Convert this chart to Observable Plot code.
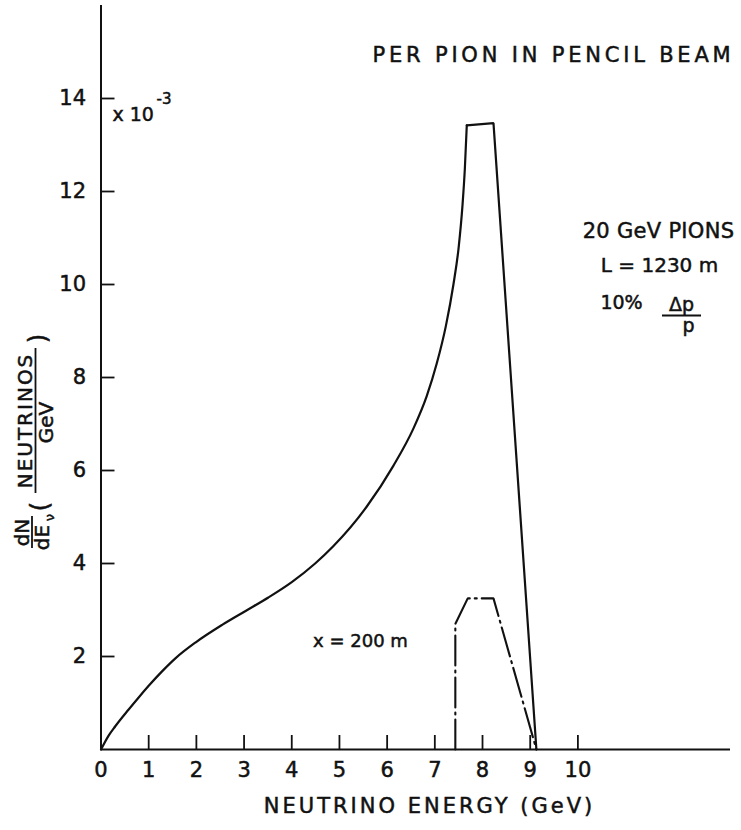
<!DOCTYPE html>
<html><head><meta charset="utf-8">
<script src="https://cdn.jsdelivr.net/npm/d3@7"></script>
<script src="https://cdn.jsdelivr.net/npm/@observablehq/plot@0.6"></script>
<style>body{margin:0;background:#fff} svg{display:block}</style>
</head><body><div id="chart"></div>
<script>
// ---- data ----
const energyRise = [0, 0.16, 0.3, 0.58, 0.79, 1.0, 1.28, 1.56, 1.98, 2.54, 3.05, 3.51, 4.0, 4.49, 4.87, 5.57, 6.13, 6.55, 6.83, 7.04, 7.23, 7.39, 7.5, 7.58, 7.63, 7.67];
const fluxRise   = [0, 0.3, 0.5, 0.86, 1.12, 1.37, 1.68, 1.96, 2.3, 2.68, 2.99, 3.27, 3.6, 4.0, 4.37, 5.22, 6.1, 6.9, 7.6, 8.3, 9.1, 10.0, 10.8, 11.7, 12.5, 13.42];
const energyPeak = [7.67, 8.23, 9.13];
const fluxPeak   = [13.42, 13.47, 0];
const energy200  = [7.43, 7.43, 7.69, 8.23, 9.13];
const flux200    = [0, 2.70, 3.25, 3.25, 0];
const xTickValues = [0,1,2,3,4,5,6,7,8,9,10];
const yTickValues = [2,4,6,8,10,12,14];

// ---- layout ----
const W = 741, H = 830;
const mL = 100.5, mR = 11, mT = 5, mB = 81;
const xMax = 13.2, yMax = 16;
const kx = (W - mL - mR) / xMax, ky = (H - mT - mB) / yMax;
const X = px => (px - mL) / kx;   // page px -> data (annotations only)
const Y = py => (H - mB - py) / ky;

const rise = energyRise.map((e, i) => ({e, f: fluxRise[i]}));
const peak = energyPeak.map((e, i) => ({e, f: fluxPeak[i]}));
const d200 = energy200.map((e, i) => ({e, f: flux200[i]}));

const ink = "#111";
const font = "DejaVu Sans";
const txt = (s, px, py, o = {}) => Plot.text([s], {x: X(px), y: Y(py), text: d => d, fill: ink, fontSize: 20, lineAnchor: "middle", ...o});

const plot = Plot.plot({
  width: W, height: H,
  marginLeft: mL, marginRight: mR, marginTop: mT, marginBottom: mB,
  x: {domain: [0, xMax]},
  y: {domain: [0, yMax]},
  style: {fontFamily: font, color: ink, background: "#fff", overflow: "visible"},
  marks: [
    // axes lines
    Plot.ruleX([0], {stroke: ink, strokeWidth: 2}),
    Plot.ruleY([0], {stroke: ink, strokeWidth: 2}),
    // inward ticks
    Plot.ruleX(xTickValues.filter(d => d > 0), {y1: 0, y2: 14 / ky, stroke: ink, strokeWidth: 1.8}),
    Plot.ruleY(yTickValues, {x1: 0, x2: 14 / kx, stroke: ink, strokeWidth: 1.8}),
    Plot.axisX({ticks: xTickValues, tickSize: 0, tickPadding: 13, label: null, tickFormat: d => String(d)}),
    Plot.axisY({ticks: yTickValues, tickSize: 0, tickPadding: 15, label: null, tickFormat: d => String(d)}),
    // curves
    Plot.line(rise, {x: "e", y: "f", curve: "monotone-x", stroke: ink, strokeWidth: 2.2}),
    Plot.line(peak, {x: "e", y: "f", stroke: ink, strokeWidth: 2.2, strokeLinejoin: "miter"}),
    Plot.line(d200, {x: "e", y: "f", stroke: ink, strokeWidth: 2.1, strokeDasharray: "30,5,2,5", strokeLinejoin: "miter"}),
    // annotations
    txt("PER PION IN PENCIL BEAM", 553, 55, {fontSize: 21}),
    txt("x 10", 112, 114, {textAnchor: "start", fontSize: 19}),
    txt("-3", 156, 99, {textAnchor: "start", fontSize: 15}),
    txt("20 GeV PIONS", 658, 231, {fontSize: 21}),
    txt("L = 1230 m", 659, 265),
    txt("10%", 621, 302, {fontSize: 19}),
    txt("Δp", 681, 304, {fontSize: 19}),
    Plot.ruleY([Y(315)], {x1: X(662), x2: X(701), stroke: ink, strokeWidth: 1.8}),
    txt("p", 688, 325, {fontSize: 19}),
    txt("x = 200 m", 360, 641, {fontSize: 18}),
    txt("NEUTRINO ENERGY (GeV)", 429, 806, {fontSize: 21}),
    // rotated y label
    txt("dN", 22, 532, {rotate: -90}),
    Plot.ruleX([X(31.5)], {y1: Y(516), y2: Y(548), stroke: ink, strokeWidth: 1.8}),
    txt("dE", 42, 537, {rotate: -90}),
    txt("ν", 49, 517, {rotate: -90, fontSize: 13}),
    txt("(", 40, 506, {rotate: -90, fontSize: 24}),
    txt("NEUTRINOS", 25, 420, {rotate: -90}),
    Plot.ruleX([X(35)], {y1: Y(348), y2: Y(493), stroke: ink, strokeWidth: 1.8}),
    txt("GeV", 46, 422, {rotate: -90}),
    txt(")", 38, 338, {rotate: -90, fontSize: 24})
  ]
});

const svg = d3.select(plot);
svg.selectAll("g[aria-label*='x-axis'] text").style("font-size", "21px");
svg.selectAll("g[aria-label*='y-axis'] text").style("font-size", "21px");
const spacing = {"PER PION IN PENCIL BEAM": "3.8px", "NEUTRINO ENERGY (GeV)": "3px", "NEUTRINOS": "2px", "20 GeV PIONS": "0.3px"};
svg.selectAll("text").each(function () {
  const t = d3.select(this);
  const s = spacing[this.textContent];
  if (s) t.attr("letter-spacing", s);
  t.attr("stroke", ink).attr("stroke-width", 0.5);
});
document.getElementById("chart").append(plot);
</script>
</body></html>
